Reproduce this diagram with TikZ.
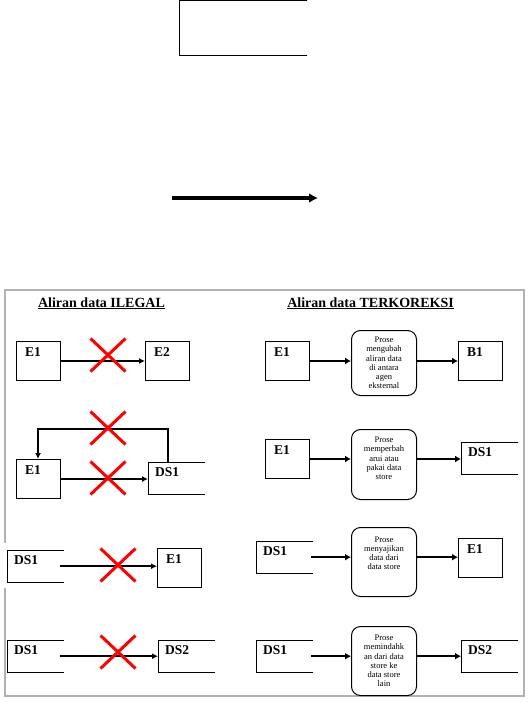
\documentclass[tikz,border=0pt]{standalone}
\usepackage{fontspec}
\setmainfont{Liberation Serif}
\usetikzlibrary{arrows.meta,shapes.misc}
\newcommand\dsdraw[1]{\draw[line width=1pt] (#1.north east) -- (#1.north west) -- (#1.south west) -- (#1.south east);}
\begin{document}
\begin{tikzpicture}[x=1pt,y=-1pt,
  lbl/.style={font=\bfseries\fontsize{13.5}{14}\selectfont},
  ent/.style={draw, line width=1pt, minimum width=44pt, minimum height=39pt, anchor=north west, inner sep=0pt,
    label={[anchor=north west, inner sep=0pt, xshift=9pt, yshift=-6pt, lbl]north west:#1}},
  ds/.style={minimum width=57pt, minimum height=32pt, anchor=north west, inner sep=0pt,
    label={[anchor=north west, inner sep=0pt, xshift=7pt, yshift=-5pt, lbl]north west:#1}},
  proc/.style={draw, line width=1pt, rounded corners=9pt, minimum width=65pt, anchor=north west, inner sep=0pt,
    align=center, font=\fontsize{8.5}{9.2}\selectfont},
  arL/.style={line width=1.6pt, -{Latex[length=6pt,width=6pt]}},
  arR/.style={line width=2.4pt, -{Latex[length=6pt,width=7pt]}},
  bad/.style={cross out, draw=red, line width=3pt, minimum width=32pt, minimum height=30pt, inner sep=0pt},
  head/.style={font=\bfseries\fontsize{14}{16}\selectfont, anchor=base}]
\useasboundingbox (0,0) rectangle (527,703);

% top legend shapes
\node[minimum width=128pt, minimum height=54pt, anchor=north west, inner sep=0pt] (top) at (179,1) {};
\dsdraw{top}
\coordinate (ta) at (172,198);
\coordinate (tb) at (318,198);
\draw[line width=4pt, -{Latex[length=9pt,width=10pt]}] (ta) -- (tb);

% frame
\draw[gray!60, line width=1.3pt] (5,543) -- (5,290) -- (524,290) -- (524,696) -- (5,696) -- (5,588);

% headings
\node[head] (h1) at (101.5,307) {\underline{Aliran data ILEGAL}};
\node[head] (h2) at (370.5,307) {\underline{Aliran data TERKOREKSI}};

% ---------- left column ----------
% row 1
\node[ent=E1] (l1a) at (16,341) {};
\node[ent=E2] (l1b) at (145,341) {};
\draw[arL] (l1a.east) -- (l1b.west);
\node[bad] (x1) at (108,355) {};

% row 2
\node[ent=E1] (l2a) at (16,459) {};
\node[ds=DS1] (l2b) at (148,462) {};
\dsdraw{l2b}
\coordinate (l2c) at (168,462);
\draw[arL] (l2a.east) -- (l2a.east -| l2b.west);
\draw[arL] (l2c) -- (168,429) -- (38,429) -- (38,459);
\node[bad] (x2) at (108,428) {};
\node[bad] (x3) at (108,478) {};

% row 3
\node[ds=DS1] (l3a) at (7,550) {};
\dsdraw{l3a}
\node[ent=E1] (l3b) at (157,548) {};
\draw[arL] ([xshift=-4pt]l3a.east) -- (l3a.east -| l3b.west);
\node[bad] (x4) at (118,565) {};

% row 4
\node[ds=DS1] (l4a) at (7,640) {};
\dsdraw{l4a}
\node[ds=DS2] (l4b) at (158,640) {};
\dsdraw{l4b}
\draw[arL] ([xshift=-4pt]l4a.east) -- (l4b.west);
\node[bad] (x5) at (118,652) {};

% ---------- right column ----------
% row 1
\node[ent=E1] (r1a) at (265,341) {};
\node[proc, minimum height=65pt] (r1p) at (351,330) {Prose\\mengubah\\aliran data\\di antara\\agen\\eksternal};
\node[ent=B1] (r1b) at (458,341) {};
\draw[arR] (r1a.east) -- (r1a.east -| r1p.west);
\draw[arR] (r1a.east -| r1p.east) -- (r1b.west);

% row 2
\node[ent=E1] (r2a) at (265,439) {};
\node[proc, minimum height=70pt] (r2p) at (351,429) {Prose\\memperbah\\arui atau\\pakai data\\store\\[3pt]};
\node[ds=DS1] (r2b) at (461,442) {};
\dsdraw{r2b}
\draw[arR] (r2a.east) -- (r2a.east -| r2p.west);
\draw[arR] (r2a.east -| r2p.east) -- (r2a.east -| r2b.west);

% row 3
\node[ds=DS1] (r3a) at (256,541) {};
\dsdraw{r3a}
\node[proc, minimum height=69pt] (r3p) at (351,527) {Prose\\menyajikan\\data dari\\data store\\[8pt]};
\node[ent=E1] (r3b) at (458,538) {};
\draw[arR] ([xshift=-2pt]r3a.east) -- (r3a.east -| r3p.west);
\draw[arR] (r3a.east -| r3p.east) -- (r3a.east -| r3b.west);

% row 4
\node[ds=DS1] (r4a) at (256,640) {};
\dsdraw{r4a}
\node[proc, minimum height=69pt] (r4p) at (351,626) {Prose\\memindahk\\an dari data\\store ke\\data store\\lain};
\node[ds=DS2] (r4b) at (461,640) {};
\dsdraw{r4b}
\draw[arR] ([xshift=-2pt]r4a.east) -- (r4a.east -| r4p.west);
\draw[arR] (r4a.east -| r4p.east) -- (r4b.west);
\end{tikzpicture}
\end{document}
